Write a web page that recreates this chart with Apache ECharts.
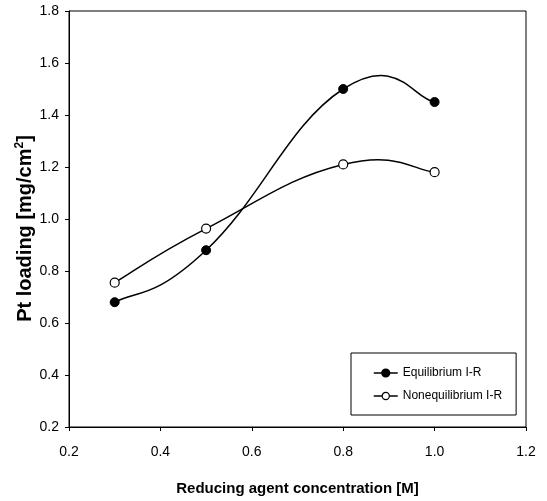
<!DOCTYPE html>
<html>
<head>
<meta charset="utf-8">
<script src="https://cdn.jsdelivr.net/npm/echarts@6/dist/echarts.min.js"></script>
<style>
html,body{margin:0;padding:0;background:#fff;}
#chart{width:547px;height:501px;}
</style>
</head>
<body>
<div id="chart"></div>
<script>
var concentration = [0.3, 0.5, 0.8, 1.0];
var equilibrium = [0.68, 0.88, 1.50, 1.45];
var nonequilibrium = [0.755, 0.963, 1.21, 1.18];
var seriesNames = ['Equilibrium I-R', 'Nonequilibrium I-R'];
var xTitle = 'Reducing agent concentration [M]';

function pairs(xs, ys) { return xs.map(function (x, i) { return [x, ys[i]]; }); }

// Spreadsheet-style smoothed curve through the data points (pixel positions come from the axes via api.coord)
function smoothCurve(ys) {
  var k = 0.24;
  return function (params, api) {
    if (params.dataIndex !== 0) return null;
    var p = concentration.map(function (x, i) { return api.coord([x, ys[i]]); });
    var n = p.length;
    var d = 'M' + p[0][0] + ' ' + p[0][1];
    for (var i = 0; i < n - 1; i++) {
      var a = p[i], b = p[i + 1];
      var prev = i > 0 ? p[i - 1] : a;
      var next = i + 2 < n ? p[i + 2] : b;
      var c1 = [a[0] + (b[0] - prev[0]) * k, a[1] + (b[1] - prev[1]) * k];
      var c2 = [b[0] - (next[0] - a[0]) * k, b[1] - (next[1] - a[1]) * k];
      d += ' C' + c1[0] + ' ' + c1[1] + ' ' + c2[0] + ' ' + c2[1] + ' ' + b[0] + ' ' + b[1];
    }
    return {type: 'path', shape: {pathData: d}, style: {fill: null, stroke: '#000', lineWidth: 1.5}, silent: true};
  };
}

var chart = echarts.init(document.getElementById('chart'), null, {renderer: 'canvas'});
var font = 'Liberation Sans, Arial, sans-serif';
chart.setOption({
  animation: false,
  backgroundColor: '#fff',
  textStyle: {fontFamily: font},
  grid: {left: 69, right: 21, top: 11, bottom: 74, show: true, borderColor: '#000', borderWidth: 1, containLabel: false},
  legend: {
    data: [
      {name: seriesNames[0], lineStyle: {color: '#000', width: 1.5, opacity: 1}, itemStyle: {color: '#000', borderColor: '#000'}},
      {name: seriesNames[1], lineStyle: {color: '#000', width: 1.5, opacity: 1}, itemStyle: {color: '#fff', borderColor: '#000', borderWidth: 1.2}}
    ],
    orient: 'vertical',
    left: 351, top: 353,
    width: 166,
    itemWidth: 24, itemHeight: 9,
    itemGap: 11,
    padding: [14, 14, 13, 22],
    borderColor: '#000', borderWidth: 1,
    backgroundColor: '#fff',
    textStyle: {fontFamily: font, fontSize: 12, color: '#000'}
  },
  xAxis: {
    type: 'value', min: 0.2, max: 1.2, interval: 0.2,
    name: xTitle, nameLocation: 'middle', nameGap: 54, nameMoveOverlap: false,
    nameTextStyle: {fontFamily: font, fontSize: 15, fontWeight: 'bold', color: '#000'},
    axisLine: {show: true, lineStyle: {color: '#000', width: 1}},
    axisTick: {show: true, length: 4, lineStyle: {color: '#000'}},
    axisLabel: {color: '#000', fontSize: 14, margin: 18, formatter: function (v) { return v.toFixed(1); }},
    splitLine: {show: false}
  },
  yAxis: {
    type: 'value', min: 0.2, max: 1.8, interval: 0.2,
    name: 'Pt loading [mg/cm{sup|2}]', nameLocation: 'middle', nameGap: 33, nameMoveOverlap: false,
    nameTextStyle: {fontFamily: font, fontSize: 20, fontWeight: 'bold', color: '#000', padding: [0, 19, 0, 0],
      rich: {sup: {fontFamily: font, fontSize: 12, fontWeight: 'bold', color: '#000', verticalAlign: 'top', padding: [0, 0, 10, 0]}}},
    axisLine: {show: true, lineStyle: {color: '#000', width: 1}},
    axisTick: {show: true, length: 4, lineStyle: {color: '#000'}},
    axisLabel: {color: '#000', fontSize: 14, margin: 10, formatter: function (v) { return v.toFixed(1); }},
    splitLine: {show: false}
  },
  series: [
    {
      name: 'curve-eq', type: 'custom', renderItem: smoothCurve(equilibrium),
      data: pairs(concentration, equilibrium), z: 1, silent: true
    },
    {
      name: 'curve-neq', type: 'custom', renderItem: smoothCurve(nonequilibrium),
      data: pairs(concentration, nonequilibrium), z: 1, silent: true
    },
    {
      name: seriesNames[0], type: 'line',
      data: pairs(concentration, equilibrium),
      symbol: 'circle', symbolSize: 9, z: 5,
      lineStyle: {color: '#000', width: 1.5, opacity: 0},
      itemStyle: {color: '#000', borderColor: '#000', borderWidth: 1}
    },
    {
      name: seriesNames[1], type: 'line',
      data: pairs(concentration, nonequilibrium),
      symbol: 'circle', symbolSize: 9, z: 5,
      lineStyle: {color: '#000', width: 1.5, opacity: 0},
      itemStyle: {color: '#fff', borderColor: '#000', borderWidth: 1.2}
    }
  ]
});
</script>
</body>
</html>
